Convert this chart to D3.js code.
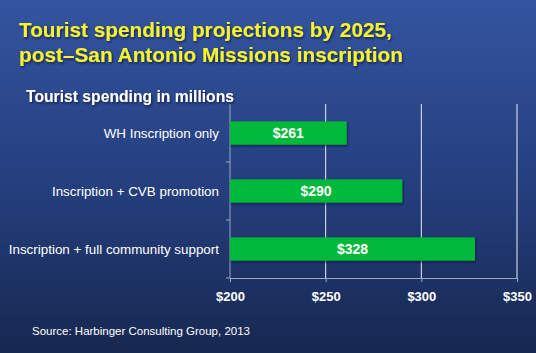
<!DOCTYPE html>
<html>
<head>
<meta charset="utf-8">
<script src="https://cdn.jsdelivr.net/npm/d3@7"></script>
<style>
  html, body { margin: 0; padding: 0; }
  body { width: 536px; height: 353px; overflow: hidden; }
  text { font-family: "Liberation Sans", Arial, Helvetica, sans-serif; }
</style>
</head>
<body>
<div id="chart"></div>
<script>
// Données
const categories = ["WH Inscription only", "Inscription + CVB promotion", "Inscription + full community support"];
const spending = [261, 290, 328];
const xTicks = [200, 250, 300, 350];

const width = 536, height = 353;

const svg = d3.select("#chart")
    .append("svg")
    .attr("width", width)
    .attr("height", height);

// Fond dégradé bleu
const defs = svg.append("defs");
const grad = defs.append("linearGradient")
    .attr("id", "bg")
    .attr("x1", 0).attr("y1", 0)
    .attr("x2", 0).attr("y2", 1);
grad.append("stop").attr("offset", "0%").attr("stop-color", "#3454a0");
grad.append("stop").attr("offset", "55%").attr("stop-color", "#243e7c");
grad.append("stop").attr("offset", "100%").attr("stop-color", "#172850");

const shadow = defs.append("filter").attr("id", "shadow")
    .attr("x", "-5%").attr("y", "-20%").attr("width", "110%").attr("height", "150%");
shadow.append("feDropShadow")
    .attr("dx", 1).attr("dy", 1.5).attr("stdDeviation", 0.8)
    .attr("flood-color", "#0a1530").attr("flood-opacity", 0.7);

svg.append("rect")
    .attr("width", width)
    .attr("height", height)
    .attr("fill", "url(#bg)");

// Titre
const title = svg.append("text")
    .attr("x", 19)
    .attr("fill", "#f6f52c")
    .style("font-size", "20.8px")
    .style("font-weight", "bold")
    .attr("filter", "url(#shadow)");
title.append("tspan").attr("x", 19).attr("y", 37).text("Tourist spending projections by 2025,");
title.append("tspan").attr("x", 19).attr("y", 62).text("post\u2013San Antonio Missions inscription");

svg.append("text")
    .attr("x", 26)
    .attr("y", 102)
    .attr("fill", "#ffffff")
    .style("font-size", "15.7px")
    .style("font-weight", "bold")
    .attr("filter", "url(#shadow)")
    .text("Tourist spending in millions");

// Échelles
const xScale = d3.scaleLinear()
    .domain([200, 350])
    .range([230, 517]);

const yScale = d3.scaleBand()
    .domain(categories)
    .range([104, 278])
    .paddingInner(0.6)
    .paddingOuter(0.3);

// Grille verticale
svg.append("g")
    .selectAll("line")
    .data(xTicks.slice(1))
    .enter()
    .append("line")
    .attr("x1", d => xScale(d))
    .attr("x2", d => xScale(d))
    .attr("y1", 104)
    .attr("y2", 278)
    .attr("stroke", "#e8ecf4")
    .attr("stroke-width", 1);

// Axe X
const xAxis = svg.append("g")
    .attr("transform", "translate(0,278)")
    .call(d3.axisBottom(xScale).tickValues(xTicks).tickSize(4).tickPadding(10).tickFormat(d => "$" + d));
xAxis.select(".domain").attr("stroke", "#9aa6c4");
xAxis.selectAll(".tick line").attr("stroke", "#9aa6c4");
xAxis.selectAll(".tick text")
    .attr("fill", "#ffffff")
    .style("font-size", "13px")
    .style("font-weight", "bold")
    .style("font-family", "'Liberation Sans', Arial, sans-serif");

// Axe Y
svg.append("line")
    .attr("x1", 230).attr("x2", 230)
    .attr("y1", 104).attr("y2", 278)
    .attr("stroke", "#9aa6c4");

const step = yScale.step();
const boundaries = categories.map((c, i) => 104 + step * (i + 1));
svg.append("g")
    .selectAll("line")
    .data(boundaries)
    .enter()
    .append("line")
    .attr("x1", 226).attr("x2", 230)
    .attr("y1", d => d).attr("y2", d => d)
    .attr("stroke", "#9aa6c4");

svg.append("g")
    .selectAll("text")
    .data(categories)
    .enter()
    .append("text")
    .attr("x", 219)
    .attr("y", d => yScale(d) + yScale.bandwidth() / 2)
    .attr("dy", "0.35em")
    .attr("text-anchor", "end")
    .attr("fill", "#ffffff")
    .style("font-size", "13.4px")
    .text(d => d);

// Barres
const rows = categories.map((c, i) => ({ cat: c, value: spending[i] }));

svg.append("g")
    .selectAll("rect")
    .data(rows)
    .enter()
    .append("rect")
    .attr("x", xScale(200))
    .attr("y", d => yScale(d.cat))
    .attr("width", d => xScale(d.value) - xScale(200))
    .attr("height", yScale.bandwidth())
    .attr("fill", "#00b93b")
    .attr("filter", "url(#shadow)");

svg.append("g")
    .selectAll("text")
    .data(rows)
    .enter()
    .append("text")
    .attr("x", d => (xScale(200) + xScale(d.value)) / 2)
    .attr("y", d => yScale(d.cat) + yScale.bandwidth() / 2)
    .attr("dy", "0.36em")
    .attr("text-anchor", "middle")
    .attr("fill", "#ffffff")
    .style("font-size", "14px")
    .style("font-weight", "bold")
    .text(d => "$" + d.value);

// Source
svg.append("text")
    .attr("x", 32)
    .attr("y", 335)
    .attr("fill", "#ffffff")
    .style("font-size", "11.5px")
    .text("Source: Harbinger Consulting Group, 2013");
</script>
</body>
</html>
